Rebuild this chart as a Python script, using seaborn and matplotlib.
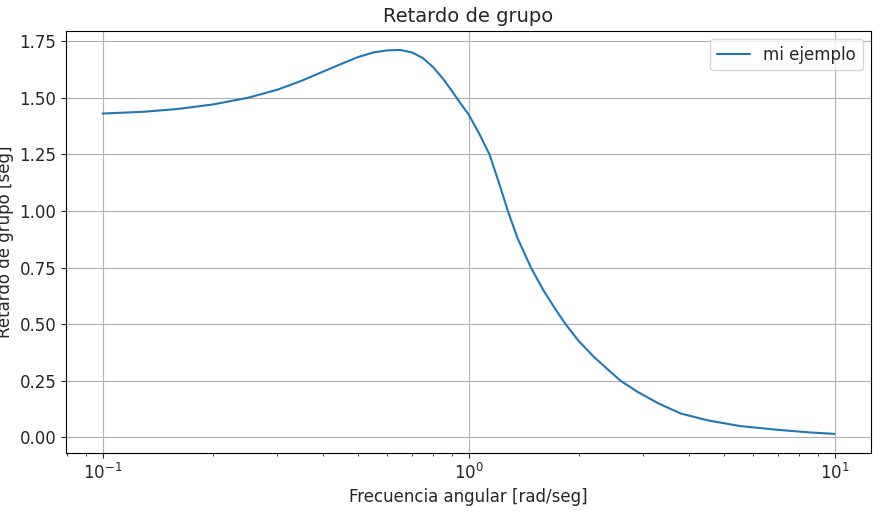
import matplotlib
matplotlib.use("Agg")
import matplotlib.pyplot as plt
import seaborn as sns
import pandas as pd

freq = [0.1, 0.13, 0.16, 0.2, 0.25, 0.3, 0.35, 0.4, 0.45, 0.5, 0.55, 0.6, 0.65, 0.7, 0.75, 0.8, 0.85, 0.9, 0.95, 1.0,
        1.07, 1.14, 1.21, 1.28, 1.36, 1.48, 1.6, 1.72, 1.84, 2.0, 2.2, 2.4, 2.6, 2.9, 3.3, 3.8, 4.5, 5.5, 7.0, 8.5, 10.0]
delay = [1.430, 1.438, 1.450, 1.470, 1.500, 1.535, 1.575, 1.615, 1.650, 1.680, 1.700, 1.709, 1.711, 1.700, 1.675, 1.635, 1.585, 1.530, 1.475, 1.426,
         1.340, 1.250, 1.125, 1.000, 0.880, 0.750, 0.650, 0.570, 0.500, 0.425, 0.355, 0.300, 0.250, 0.200, 0.150, 0.105, 0.075, 0.050, 0.033, 0.022, 0.015]

df = pd.DataFrame({"freq": freq, "delay": delay})

sns.set_style("ticks")
plt.rcParams['font.family'] = ['DejaVu Sans']
plt.rcParams['axes.edgecolor'] = 'black'
fig, ax = plt.subplots(figsize=(8.8, 5.12), dpi=100)
sns.lineplot(data=df, x="freq", y="delay", ax=ax, color="#1f77b4", label="mi ejemplo", linewidth=1.5)
ax.set_xscale("log")
ax.grid(True, which="major", color="#b0b0b0", linewidth=0.8)
ax.set_title("Retardo de grupo", fontsize=14)
ax.set_xlabel("Frecuencia angular [rad/seg]", fontsize=12)
ax.set_ylabel("Retardo de grupo [seg]", fontsize=12)
ax.tick_params(labelsize=12)
ax.set_yticks([0, 0.25, 0.5, 0.75, 1.0, 1.25, 1.5, 1.75])
ax.legend(loc="upper right", fontsize=12)
fig.subplots_adjust(left=0.075, right=0.99, top=0.94, bottom=0.115)
fig.savefig("out.png", dpi=100)
